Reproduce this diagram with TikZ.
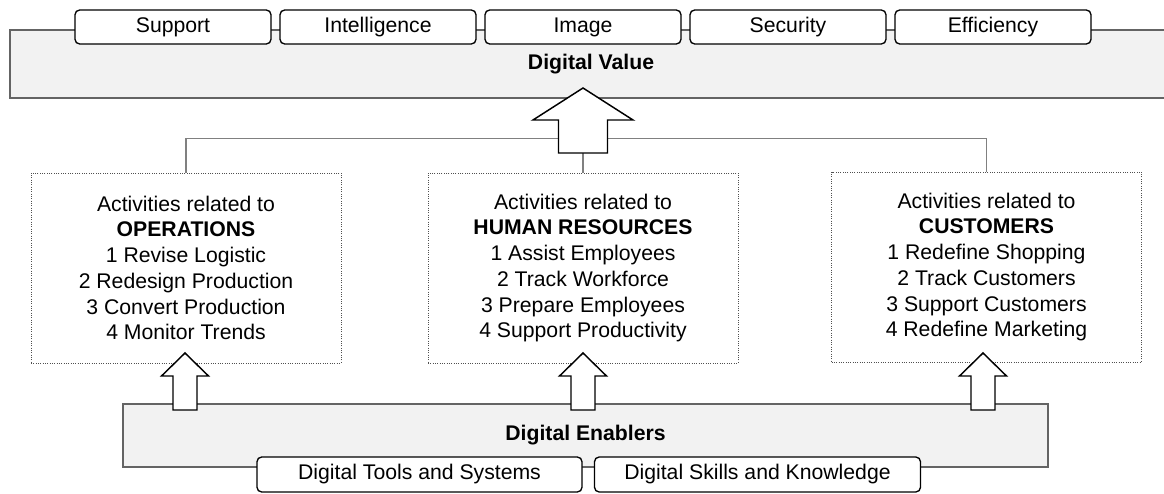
\documentclass[tikz,border=0pt]{standalone}
\usepackage{fontspec}
\setmainfont{Liberation Sans}
\definecolor{bandfill}{RGB}{242,242,242}
\definecolor{bandline}{RGB}{100,100,100}
\definecolor{linkline}{RGB}{128,128,128}
\definecolor{boxline}{RGB}{80,80,80}

\begin{document}
\begin{tikzpicture}[x=0.75pt,y=0.75pt,yscale=-1,xscale=1,
  txt/.style={font=\fontsize{15.9}{19.3}\selectfont},
  band/.style={draw=bandline,fill=bandfill,line width=0.8pt,inner sep=0pt,font=\fontsize{15.9}{19.3}\selectfont\bfseries},
  tab/.style={txt,draw=black,fill=white,rounded corners=3.5pt,line width=1pt,inner sep=0pt},
  actbox/.style={txt,draw=boxline,densely dotted,line width=0.75pt,align=center,minimum width=232.5pt,minimum height=142.5pt,inner sep=0pt},
  link/.style={draw=linkline,line width=1.1pt},
  blockarrow/.style={draw=black,fill=white,line width=1.1pt,line join=miter}]
\useasboundingbox (0,0) rectangle (1164,493);

%Shape: Bands
\node[band,minimum width=871.5pt,minimum height=51pt] (value) at (591,64) {Digital Value};
\node[band,minimum width=693.75pt,minimum height=47.25pt] (enablers) at (585.5,435.5) {Digital Enablers};

%Shape: Tabs on the value band
\foreach \name/\x [count=\i] in {Support/173,Intelligence/378,Image/583,Security/788,Efficiency/993}
  \node[tab,minimum width=147pt,minimum height=25.5pt] (v\i) at (\x,27) {\name};

%Shape: Tabs on the enablers band
\node[tab,minimum width=243.75pt,minimum height=26.25pt] (tools) at (419.5,474.5) {Digital Tools and Systems};
\node[tab,minimum width=244.5pt,minimum height=26.25pt] (skills) at (757.5,474.5) {Digital Skills and Knowledge};

% Text Node
\node[actbox] (ops) at (186,268) {Activities related to\\ \textbf{OPERATIONS}\\ 1 Revise Logistic\\ 2 Redesign Production\\ 3 Convert Production\\ 4 Monitor Trends};
% Text Node
\node[actbox] (hr) at (583,268) {Activities related to\\ \textbf{HUMAN RESOURCES}\\ 1 Assist Employees\\ 2 Track Workforce\\ 3 Prepare Employees\\ 4 Support Productivity};
% Text Node
\node[actbox] (cust) at (986.5,267) {Activities related to\\ \textbf{CUSTOMERS}\\ 1 Redefine Shopping\\ 2 Track Customers\\ 3 Support Customers\\ 4 Redefine Marketing};

%Straight Lines
\coordinate (vtail) at (583,153);
\draw[link] (ops.north) -- ++(0,-34) -| (cust.north);
\draw[link] (hr.north) -- (vtail);

%Shape: Up arrows
\draw[blockarrow] (vtail) ++(-24.5,0) -- ++(0,-33) -- ++(-25.5,0) -- ++(50,-32) -- ++(50,32) -- ++(-25.5,0) -- ++(0,33) -- cycle;
\foreach \x in {185,583,983}
  \draw[blockarrow] (\x-12,410) -- (\x-12,376) -- (\x-23.5,376) -- (\x,353) -- (\x+23.5,376) -- (\x+12,376) -- (\x+12,410) -- cycle;
\end{tikzpicture}
\end{document}
